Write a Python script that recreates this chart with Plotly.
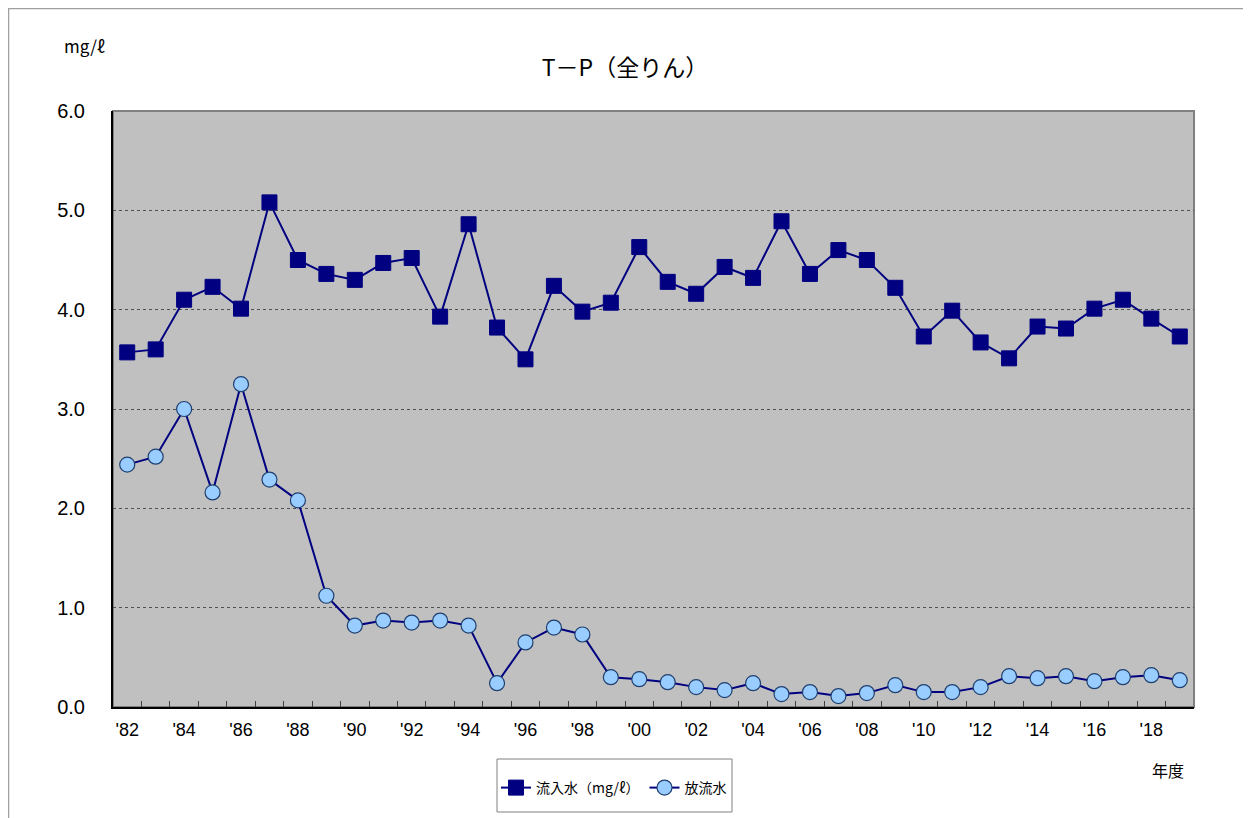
import plotly.graph_objects as go

years = list(range(1982, 2020))
inflow = [3.57, 3.60, 4.10, 4.23, 4.01, 5.08, 4.50, 4.36, 4.30, 4.47,
          4.52, 3.93, 4.86, 3.82, 3.50, 4.24, 3.98, 4.07, 4.63, 4.28,
          4.16, 4.43, 4.32, 4.89, 4.36, 4.60, 4.50, 4.22, 3.73, 3.99,
          3.67, 3.51, 3.83, 3.81, 4.01, 4.10, 3.91, 3.73]
outflow = [2.44, 2.52, 3.00, 2.16, 3.25, 2.29, 2.08, 1.12, 0.82, 0.87,
           0.85, 0.87, 0.82, 0.24, 0.65, 0.80, 0.73, 0.30, 0.28, 0.25,
           0.20, 0.17, 0.24, 0.13, 0.15, 0.11, 0.14, 0.22, 0.15, 0.15,
           0.20, 0.31, 0.29, 0.31, 0.26, 0.30, 0.32, 0.27]
tick_years = list(range(1982, 2020, 2))
tick_text = ["'" + str(y)[2:] for y in tick_years]
y_ticks = [0, 1, 2, 3, 4, 5, 6]
y_text = ["0.0", "1.0", "2.0", "3.0", "4.0", "5.0", "6.0"]
series_names = ["流入水（mg/ℓ）", "放流水"]

FONT = "Arial, 'Liberation Sans', 'Noto Sans CJK JP', sans-serif"
JFONT = "'Noto Sans CJK JP', Arial, sans-serif"

# figure-pixel geometry of the plot area (page has an 8px body margin)
W, H = 1251, 818
L, R, T, B = 105, 1186, 103, 699
PW, PH = R - L, B - T


def px(x):
    return (x - L) / PW


def py(y):
    return (B - y) / PH


fig = go.Figure()
fig.add_trace(go.Scatter(
    x=years, y=inflow, name=series_names[0], mode="lines+markers",
    line=dict(color="#000080", width=2),
    marker=dict(symbol="square", size=15, color="#000080",
                line=dict(color="#000080", width=1)),
))
fig.add_trace(go.Scatter(
    x=years, y=outflow, name=series_names[1], mode="lines+markers",
    line=dict(color="#000080", width=2),
    marker=dict(symbol="circle", size=15, color="#99CCFF",
                line=dict(color="#1F3F6F", width=1.2)),
))
# invisible trace to anchor the boundary-tick axis
fig.add_trace(go.Scatter(x=[years[0]], y=[0], xaxis="x2", mode="markers",
                         marker=dict(opacity=0), showlegend=False,
                         hoverinfo="skip"))

xr = [years[0] - 0.5, years[-1] + 0.5]
fig.update_layout(
    width=W, height=H,
    margin=dict(l=L, r=W - R, t=T, b=H - B),
    paper_bgcolor="white",
    plot_bgcolor="#C0C0C0",
    font=dict(family=FONT, color="black"),
    showlegend=True,
    legend=dict(
        orientation="h", x=px(606), y=py(780), xanchor="center",
        yanchor="middle",
        bgcolor="rgba(0,0,0,0)", borderwidth=0,
        font=dict(family=JFONT, size=14, color="black"),
        itemwidth=30, tracegroupgap=0,
    ),
    xaxis=dict(
        range=xr, tickmode="array", tickvals=tick_years, ticktext=tick_text,
        ticks="", showgrid=False, zeroline=False,
        showline=True, linecolor="black", linewidth=2,
        tickfont=dict(family=FONT, size=18, color="black"),
        ticklabelstandoff=5,
    ),
    xaxis2=dict(
        range=xr, overlaying="x", anchor="y", side="bottom",
        tickmode="array", tickvals=[y + 0.5 for y in years[:-1]],
        ticks="inside", ticklen=6, tickcolor="#404040", tickwidth=1,
        showticklabels=False, showgrid=False, zeroline=False, showline=False,
    ),
    yaxis=dict(
        range=[0, 6], tickmode="array", tickvals=y_ticks, ticktext=y_text,
        ticks="", showgrid=True, gridcolor="#505050", griddash="dot",
        gridwidth=1, zeroline=False,
        showline=True, linecolor="black", linewidth=2,
        tickfont=dict(family=FONT, size=20, color="black"),
        ticklabelstandoff=22,
    ),
    title=dict(
        text="T－P（全りん）", x=617 / W, xanchor="center",
        y=1 - 60 / H, yanchor="middle", xref="container", yref="container",
        font=dict(family=JFONT, size=23, color="black"),
    ),
)

# plot-area border (top/right gray)
fig.add_shape(type="rect", xref="paper", yref="paper", x0=0, y0=0, x1=1, y1=1,
              line=dict(color="#808080", width=2), layer="below")
# outer chart border
fig.add_shape(type="rect", xref="paper", yref="paper",
              x0=px(0.5), y0=py(0.5), x1=px(W + 20), y1=py(H + 20),
              line=dict(color="#A0A0A0", width=1.5), layer="below")
# legend box
fig.add_shape(type="rect", xref="paper", yref="paper",
              x0=px(489), y0=py(751), x1=px(724), y1=py(804),
              line=dict(color="#808080", width=1), fillcolor="white",
              layer="below")

fig.add_annotation(text="mg/ℓ", xref="paper", yref="paper",
                   x=px(76), y=py(37),
                   showarrow=False, xanchor="center", yanchor="middle",
                   font=dict(family=JFONT, size=17, color="black"))
fig.add_annotation(text="年度", xref="paper", yref="paper",
                   x=px(1160), y=py(762),
                   showarrow=False, xanchor="center", yanchor="middle",
                   font=dict(family=JFONT, size=16, color="black"))

fig.write_html("out.html")
